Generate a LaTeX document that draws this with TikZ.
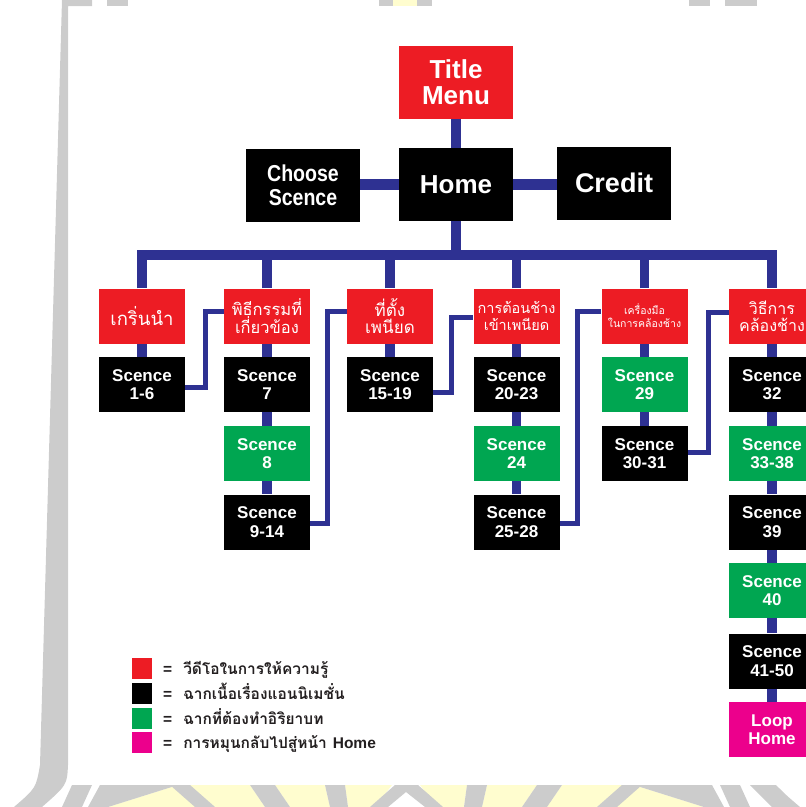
\documentclass[tikz,border=0pt]{standalone}
\usepackage{fontspec}
\setmainfont{Liberation Sans}
\newfontfamily\thai[Script=Thai]{Loma}
\newfontfamily\cond[FakeStretch=0.85]{Liberation Sans}
\definecolor{tred}{HTML}{ED1C24}
\definecolor{tgreen}{HTML}{00A651}
\definecolor{tpink}{HTML}{EC008C}
\definecolor{navy}{HTML}{2E3192}
\definecolor{wmgrey}{HTML}{CCCCCC}
\definecolor{wmyel}{HTML}{FFFDCF}
\definecolor{legtext}{HTML}{231F20}
\pgfdeclarelayer{wm}
\pgfdeclarelayer{bg}
\pgfsetlayers{wm,bg,main}
\newcommand{\wmq}[5]{\fill[#5] (#1,785) -- (#2,785) -- (#4,807) -- (#3,807) -- cycle;}
\tikzset{
  box/.style={minimum width=86pt, minimum height=55pt, inner sep=0pt, align=center, text=white,
    font=\fontsize{17}{18.5}\selectfont\bfseries},
  blackbox/.style={box, fill=black},
  greenbox/.style={box, fill=tgreen},
  pinkbox/.style={box, fill=tpink},
  redbox/.style={box, fill=tred, font=\thai\fontsize{16.5}{17}\selectfont},
  bigbox/.style={minimum width=114pt, minimum height=73pt, inner sep=0pt, align=center, text=white,
    font=\fontsize{26}{26}\selectfont\bfseries},
  tree/.style={draw=navy, line width=9.5pt, line join=miter},
  elbow/.style={draw=navy, line width=5pt, line join=miter},
  legsq/.style={minimum width=20pt, minimum height=21pt, inner sep=0pt},
  legtxt/.style={anchor=base west, inner sep=0pt, text=legtext, font=\fontsize{15.5}{15.5}\selectfont\bfseries},
}
\begin{document}
\begin{tikzpicture}[x=1pt,y=-1pt]
\useasboundingbox (0,0) rectangle (806,807);
% ---------------- watermark ----------------
\begin{pgfonlayer}{wm}
\fill[wmgrey] (62,0) -- (92,0) -- (92,6) -- (68,6) -- (68,765) .. controls (67,785) .. (42,807)
  -- (14,807) .. controls (36,788) .. (40,765) -- cycle;
\fill[wmgrey] (107,0) rectangle (128,6);
\fill[wmgrey] (379,0) rectangle (393,6);
\fill[wmyel] (393,0) rectangle (417,6);
\fill[wmgrey] (417,0) rectangle (432,6);
\fill[wmgrey] (689,0) rectangle (710,6);
\fill[wmgrey] (725,0) rectangle (757,6);
\wmq{178}{250}{108}{265}{wmyel}
\wmq{275}{325}{290}{330}{wmyel}
\wmq{345}{392}{348}{375}{wmyel}
\wmq{420}{467}{437}{464}{wmyel}
\wmq{487}{537}{482}{522}{wmyel}
\wmq{562}{634}{547}{704}{wmyel}
\wmq{72}{92}{62}{82}{wmgrey}
\wmq{100}{178}{88}{108}{wmgrey}
\wmq{170}{190}{195}{215}{wmgrey}
\wmq{250}{275}{265}{290}{wmgrey}
\wmq{325}{345}{330}{348}{wmgrey}
\wmq{467}{487}{464}{482}{wmgrey}
\wmq{537}{562}{522}{547}{wmgrey}
\wmq{622}{642}{597}{617}{wmgrey}
\wmq{634}{712}{704}{724}{wmgrey}
\wmq{720}{740}{730}{750}{wmgrey}
\fill[wmgrey] (370,807) -- (395,785) -- (418,785) -- (443,807) -- (425,807) -- (406,792) -- (388,807) -- cycle;
\fill[wmgrey] (750,785) -- (776,785) .. controls (786,795) .. (800,807) -- (772,807) .. controls (762,797) .. cycle;
\end{pgfonlayer}
% ---------------- top nodes ----------------
\node[bigbox, fill=tred] (title) at (456,82) {Title\\Menu};
\node[bigbox, fill=black] (home) at (456,184.5) {Home};
\node[bigbox, fill=black, font=\cond\fontsize{23}{24}\selectfont\bfseries] (choose) at (303,185) {Choose\\Scence};
\node[bigbox, fill=black, font=\fontsize{27}{27}\selectfont\bfseries] (credit) at (614,183) {Credit};
\coordinate (bus) at (456,255);
% ---------------- red row ----------------
\node[redbox, font=\thai\fontsize{18.5}{18.5}\selectfont] (c1) at (142,316) {เกริ่นนำ};
\node[redbox] (c2) at (267,316) {พิธีกรรมที่\\เกี่ยวข้อง};
\node[redbox, font=\thai\fontsize{17}{17}\selectfont] (c3) at (390,316) {ที่ตั้ง\\เพนียด};
\node[redbox, font=\thai\fontsize{14.5}{16.5}\selectfont] (c4) at (516.5,316) {การต้อนช้าง\\เข้าเพนียด};
\node[redbox, font=\thai\fontsize{10.5}{13}\selectfont] (c5) at (644.5,316) {เครื่องมือ\\ในการคล้องช้าง};
\node[redbox, font=\thai\fontsize{16}{17}\selectfont] (c6) at (772,316) {วิธีการ\\คล้องช้าง};
% ---------------- scenes ----------------
\node[blackbox] (s16) at (142,384.5) {Scence\\1-6};
\node[blackbox] (s7) at (267,384.5) {Scence\\7};
\node[greenbox] (s8) at (267,453.5) {Scence\\8};
\node[blackbox] (s914) at (267,522) {Scence\\9-14};
\node[blackbox] (s1519) at (390,384.5) {Scence\\15-19};
\node[blackbox] (s2023) at (516.5,384.5) {Scence\\20-23};
\node[greenbox] (s24) at (516.5,453.5) {Scence\\24};
\node[blackbox] (s2528) at (516.5,522) {Scence\\25-28};
\node[greenbox] (s29) at (644.5,384.5) {Scence\\29};
\node[blackbox] (s3031) at (644.5,453.5) {Scence\\30-31};
\node[blackbox] (s32) at (772,384.5) {Scence\\32};
\node[greenbox] (s3338) at (772,453.5) {Scence\\33-38};
\node[blackbox] (s39) at (772,522) {Scence\\39};
\node[greenbox] (s40) at (772,590.5) {Scence\\40};
\node[blackbox] (s4150) at (772,661) {Scence\\41-50};
\node[pinkbox] (loop) at (772,729.5) {Loop\\Home};
% ---------------- connectors ----------------
\begin{pgfonlayer}{bg}
\draw[tree, line width=10pt] (title.south) -- (home.north);
\draw[tree, line width=10.5pt] (home.west) -- (home.west -| choose.east);
\draw[tree, line width=10.5pt] (home.east) -- (home.east -| credit.west);
\draw[tree] (home.south) -- (bus);
\draw[tree] (c1.north) |- (bus) -| (c6.north);
\draw[tree] (c2.north) -- (c2.north |- bus);
\draw[tree] (c3.north) -- (c3.north |- bus);
\draw[tree] (c4.north) -- (c4.north |- bus);
\draw[tree] (c5.north) -- (c5.north |- bus);
\draw[tree] (c1.south) -- (s16.north);
\draw[tree] (c2.south) -- (s7.north);
\draw[tree] (s7.south) -- (s8.north);
\draw[tree] (s8.south) -- (s914.north);
\draw[tree] (c3.south) -- (s1519.north);
\draw[tree] (c4.south) -- (s2023.north);
\draw[tree] (s2023.south) -- (s24.north);
\draw[tree] (s24.south) -- (s2528.north);
\draw[tree] (c5.south) -- (s29.north);
\draw[tree] (s29.south) -- (s3031.north);
\draw[tree] (c6.south) -- (s32.north);
\draw[tree] (s32.south) -- (s3338.north);
\draw[tree] (s3338.south) -- (s39.north);
\draw[tree] (s39.south) -- (s40.north);
\draw[tree] (s40.south) -- (s4150.north);
\draw[tree] (s4150.south) -- (loop.north);
\draw[elbow] ([yshift=-2.5pt]s16.east) -- ++(20.5,0) |- ([yshift=5pt]c2.west);
\draw[elbow] ([yshift=-1pt]s914.east) -- ++(17.5,0) |- ([yshift=5pt]c3.west);
\draw[elbow] ([yshift=-7.5pt]s1519.east) -- ++(18.5,0) |- ([yshift=-1pt]c4.west);
\draw[elbow] ([yshift=-1pt]s2528.east) -- ++(18,0) |- ([yshift=5pt]c5.west);
\draw[elbow] ([yshift=1.5pt]s3031.east) -- ++(21,0) |- ([yshift=4pt]c6.west);
\end{pgfonlayer}
% ---------------- legend ----------------
\node[legsq, fill=tred] (l1) at (142,668.5) {};
\node[legsq, fill=black] (l2) at (142,693.5) {};
\node[legsq, fill=tgreen] (l3) at (142,718.5) {};
\node[legsq, fill=tpink] (l4) at (142,742.5) {};
\node[legtxt] (t1) at (163,674) {=\hspace{11pt}{\thai วีดีโอในการให้ความรู้}};
\node[legtxt] (t2) at (163,699) {=\hspace{11pt}{\thai ฉากเนื้อเรื่องแอนนิเมชั่น}};
\node[legtxt] (t3) at (163,724) {=\hspace{11pt}{\thai ฉากที่ต้องทำอิริยาบท}};
\node[legtxt] (t4) at (163,748) {=\hspace{11pt}{\thai การหมุนกลับไปสู่หน้า}\hspace{6pt}Home};
\end{tikzpicture}
\end{document}
